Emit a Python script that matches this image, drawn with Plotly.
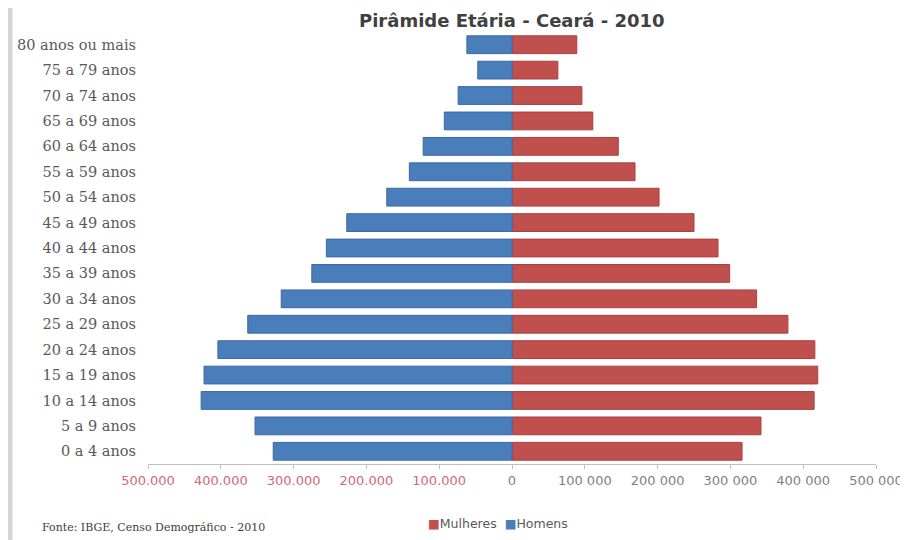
import plotly.graph_objects as go

faixas = ["0 a 4 anos", "5 a 9 anos", "10 a 14 anos", "15 a 19 anos", "20 a 24 anos",
          "25 a 29 anos", "30 a 34 anos", "35 a 39 anos", "40 a 44 anos", "45 a 49 anos",
          "50 a 54 anos", "55 a 59 anos", "60 a 64 anos", "65 a 69 anos", "70 a 74 anos",
          "75 a 79 anos", "80 anos ou mais"]
homens = [328000, 353000, 427000, 423000, 404000, 363000, 317000, 275000, 255000, 227000,
          172000, 141000, 122000, 93000, 74000, 47000, 62000]
mulheres = [316000, 342000, 415000, 420000, 416000, 379000, 336000, 299000, 283000, 250000,
            202000, 169000, 146000, 111000, 96000, 63000, 89000]
tick_vals = [-500000, -400000, -300000, -200000, -100000, 0, 100000, 200000, 300000, 400000, 500000]
tick_text = ["500.000", "400.000", "300.000", "200.000", "100.000", "0",
             "100 000", "200 000", "300 000", "400 000", "500 000"]

titulo = "Pirâmide Etária - Ceará - 2010"
fonte = "Fonte: IBGE, Censo Demográfico - 2010"

cor_mulheres = "#C0504D"
cor_homens = "#4A7EBB"
neg_color = "#d06a78"
tick_html = [f"<span style='color:{neg_color}'>{t}</span>" if v < 0 else t
             for v, t in zip(tick_vals, tick_text)]

fig = go.Figure()
fig.add_trace(go.Bar(
    y=faixas, x=mulheres, orientation="h", name="Mulheres",
    marker=dict(color=cor_mulheres, line=dict(color="#a8403d", width=1)),
))
fig.add_trace(go.Bar(
    y=faixas, x=[-v for v in homens], orientation="h", name="Homens",
    marker=dict(color=cor_homens, line=dict(color="#3a6aa5", width=1)),
))

legenda = (f"<span style='color:{cor_mulheres}'>■</span>Mulheres  "
           f"<span style='color:{cor_homens}'>■</span>Homens")

fig.update_layout(
    width=908, height=540,
    margin=dict(l=140, r=40, t=24, b=84, autoexpand=False),
    barmode="relative",
    bargap=0.3,
    plot_bgcolor="white", paper_bgcolor="white",
    showlegend=False,
    xaxis=dict(range=[-500000, 500000], tickvals=tick_vals, ticktext=tick_html,
               showgrid=False, zeroline=False, showline=True, linecolor="#bfbfbf",
               linewidth=1, ticks="outside", ticklen=4, tickcolor="#bfbfbf",
               automargin=False,
               tickfont=dict(family="DejaVu Sans", size=13, color="#7f7f7f")),
    yaxis=dict(showgrid=False, zeroline=False, showline=False, ticks="",
               automargin=False,
               tickfont=dict(family="DejaVu Serif", size=14.5, color="#595959"),
               ticklabelstandoff=11),
    annotations=[
        dict(text=f"<b>{titulo}</b>", x=0.5, y=1.055, xref="paper", yref="paper",
             xanchor="center", yanchor="top", showarrow=False,
             font=dict(family="DejaVu Sans", size=18, color="#404040")),
        dict(text=fonte, x=-0.148, y=-0.146, xref="paper", yref="paper",
             xanchor="left", yanchor="middle", showarrow=False,
             font=dict(family="DejaVu Serif", size=11, color="#404040")),
        dict(text=legenda, x=0.481, y=-0.1366, xref="paper", yref="paper",
             xanchor="center", yanchor="middle", showarrow=False,
             font=dict(family="DejaVu Sans", size=12.5, color="#595959")),
    ],
    shapes=[dict(type="line", xref="paper", yref="paper", x0=-0.1895, x1=-0.1895,
                 y0=-0.25, y1=1.1, line=dict(color="#d4d4d4", width=5))],
)

fig.write_html("out.html")
